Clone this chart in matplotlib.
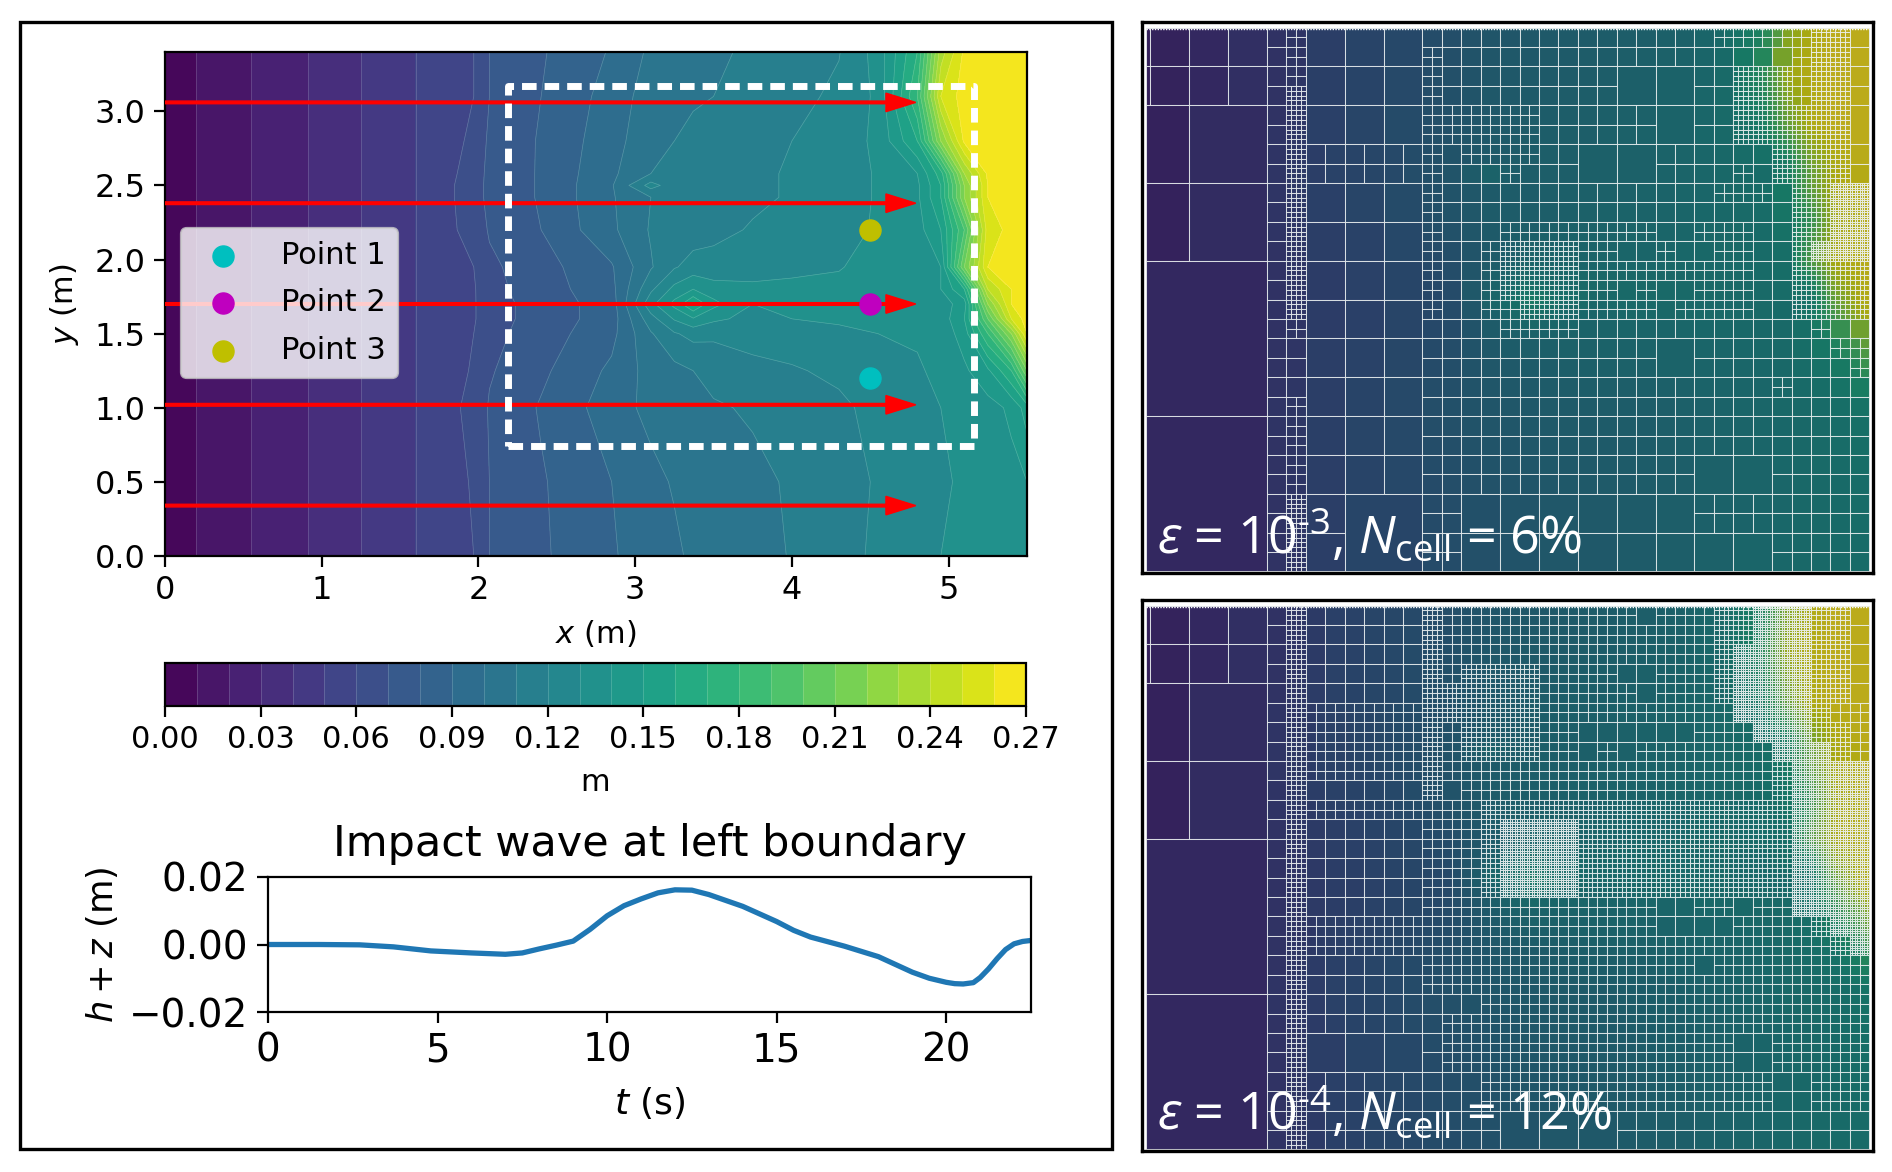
import numpy as np
import matplotlib
matplotlib.use('Agg')
import matplotlib.pyplot as plt
from matplotlib.collections import PolyCollection
from matplotlib.patches import Rectangle

W, H = 1892, 1172

plt.rcParams['font.family'] = 'DejaVu Sans'
plt.rcParams['mathtext.fontset'] = 'dejavusans'

# surface height, in cm (0.01 m)
grid_x = [0, .2, .55, .91, 1.25, 1.6, 1.97, 2.07, 2.4, 2.85, 3.1, 3.25, 3.37, 3.5, 3.75, 4.0, 4.3, 4.55, 4.8, 4.95, 5.1, 5.25, 5.4, 5.5]
grid_y = [0, .5, 1.0, 1.25, 1.5, 1.6, 1.7, 1.8, 1.95, 2.2, 2.42, 2.5, 2.58, 2.8, 3.1, 3.4]
grid_h = [
    [0, 1, 2, 3, 4, 5, 6.0, 7.0, 7.85, 8.9, 9.5, 9.8, 10.2, 10.4, 10.7, 11.05, 11.6, 12.2, 12.7, 13.0, 13.2, 13.4, 13.5, 13.6],
    [0, 1, 2, 3, 4, 5, 6.1, 7.0, 7.9, 9.0, 9.7, 10.1, 10.3, 10.5, 10.8, 11.1, 11.6, 12.1, 12.6, 12.9, 13.1, 13.4, 13.7, 14.0],
    [0, 1, 2, 3, 4, 5, 6.3, 7.1, 8.1, 9.5, 10.3, 10.5, 10.7, 10.9, 11.1, 11.3, 11.8, 12.3, 12.8, 13.0, 13.3, 13.6, 14.2, 15.5],
    [0, 1, 2, 3, 4, 5, 6.1, 6.9, 7.8, 9.2, 10.4, 10.7, 11.0, 11.3, 11.7, 11.9, 12.2, 12.6, 12.9, 13.2, 13.8, 14.8, 17.0, 21.0],
    [0, 1, 2, 3, 4, 5, 6.0, 6.7, 7.5, 8.7, 10.9, 11.9, 12.3, 12.2, 12.4, 12.5, 12.7, 13.0, 13.1, 13.3, 14.5, 18.0, 22.0, 26.0],
    [0, 1, 2, 3, 4, 5, 5.9, 6.6, 7.4, 8.5, 11.6, 13.1, 13.9, 13.2, 12.7, 13.0, 13.2, 13.2, 13.3, 13.4, 15.0, 20.0, 25.0, 26.5],
    [0, 1, 2, 3, 4, 5, 5.9, 6.6, 7.4, 8.5, 12.7, 14.3, 16.0, 14.3, 13.0, 13.2, 13.3, 13.3, 13.3, 13.5, 14.5, 22.0, 26.0, 26.5],
    [0, 1, 2, 3, 4, 5, 5.9, 6.7, 7.5, 8.7, 11.8, 13.3, 14.0, 13.4, 13.2, 13.2, 13.2, 13.3, 13.4, 14.0, 16.0, 24.0, 26.0, 26.8],
    [0, 1, 2, 3, 4, 5, 6.0, 6.8, 7.6, 8.9, 10.9, 11.9, 12.4, 12.4, 12.6, 12.8, 12.95, 13.3, 13.6, 14.0, 21.0, 26.0, 26.5, 27.0],
    [0, 1, 2, 3, 4, 5, 6.4, 7.1, 8.0, 9.8, 11.1, 11.3, 11.5, 11.7, 12.1, 12.4, 12.7, 13.1, 13.6, 15.0, 19.0, 25.5, 26.3, 27.0],
    [0, 1, 2, 3, 4, 5, 6.5, 7.3, 8.1, 9.9, 11.0, 11.2, 11.4, 11.6, 11.8, 12.1, 12.5, 13.1, 13.8, 16.0, 22.0, 26.0, 26.5, 27.0],
    [0, 1, 2, 3, 4, 5, 6.5, 7.3, 8.1, 9.9, 12.4, 11.4, 11.5, 11.6, 11.8, 12.1, 12.5, 13.1, 13.8, 16.0, 22.0, 26.0, 26.5, 27.0],
    [0, 1, 2, 3, 4, 5, 6.4, 7.3, 8.1, 9.8, 11.0, 11.2, 11.4, 11.6, 11.8, 12.1, 12.5, 13.1, 14.0, 16.5, 23.0, 26.2, 26.7, 27.0],
    [0, 1, 2, 3, 4, 5, 6.2, 7.2, 8.1, 9.6, 10.7, 11.0, 11.2, 11.4, 11.7, 12.0, 12.5, 13.2, 16.0, 22.0, 26.2, 27.0, 27.0, 27.0],
    [0, 1, 2, 3, 4, 5, 6.0, 7.0, 8.0, 9.4, 10.5, 10.7, 10.9, 11.0, 11.3, 11.7, 12.2, 13.2, 18.0, 25.0, 26.5, 27.0, 27.0, 27.0],
    [0, 1, 2, 3, 4, 5, 6.0, 7.0, 7.9, 9.1, 10.2, 10.4, 10.6, 10.8, 11.2, 11.5, 11.95, 13.4, 17.0, 23.5, 26.2, 27.0, 27.0, 27.0],
]

arrow_y = [0.34, 1.02, 1.70, 2.38, 3.06]
box_x = [2.19, 5.165]
box_y = [0.74, 3.17]

point_labels = ['Point 1', 'Point 2', 'Point 3']
point_x = [4.5, 4.5, 4.5]
point_y = [1.2, 1.7, 2.2]
point_colors = ['c', 'm', 'y']

# impact wave
wave_t = [0, 1.5, 2.7, 3.7, 4.8, 6, 7, 7.5, 8, 8.5, 9, 9.5, 10, 10.5, 11, 11.5, 12, 12.5, 13, 14, 15, 15.5, 16, 17, 18, 19, 19.5, 20, 20.25, 20.5, 20.8, 21, 21.25, 21.5, 21.75, 22, 22.25, 22.5]
wave_h = [0, 0, -.0001, -.0007, -.0019, -.0025, -.0029, -.0025, -.0013, -.0002, .001, .0045, .0085, .0115, .0135, .0153, .0162, .0161, .0148, .0113, .0068, .0042, .0022, -.0005, -.0036, -.0082, -.0100, -.0112, -.0116, -.0117, -.0113, -.0098, -.0072, -.0042, -.0015, .0002, .0009, .0012]

# refinement depth of each mesh square, one string per row (0 = largest cells)
mesh_levels_a = [
    '2222222 3 4 222222 3 33333333333333 4444 4 55 33',
    '2222222 3 4 222222 4 33333333333333 3333 4 55 33',
    '2222222 3 4 222222 4 333333333 2222 3 3 555 4 55 33',
    '2222222 3 5 222222 4 333333333 2222 3 3 555 4 55 33',
    '1111111 3 5 222222 4 44444 333333 22 3 3 555 5 55 22',
    '1111111 3 5 222222 4 44444 333333 22 3 3 555 5 55 22',
    '1111111 3 5 333333 4 3 4444 33 2222 333333 555 5 22',
    '1111111 3 5 333333 4 33343 33 2222 333343 555 5 33',
    '1111111 3 5 222222 4 33333333333333 444 3 55665',
    '1111111 3 5 222222 4 33333333333333 3333 55665',
    '1111111 3 5 222222 4 333 44444444 33 444 33 55665',
    '1111111 3 5 222222 4 33 4 5555 44 33 43 344 33 56665',
    '0000000 3 5 222222 4 33 4 5555 44 44 44 444 33 5 555 5',
    '0000000 3 5 222222 4 33 4 5555 44 34 33 444 33 5 555 5',
    '0000000 3 5 222222 4 33 4 4555 44 44 34 444 33 5 555 5',
    '0000000 3 4 222222 3 333 4444 333333333333 4 333',
    '0000000 3 3 222222 3 33333333333 22 33333 33444',
    '0000000 3 3 222222 3 33333333333 22 33333 33344',
    '0000000 3 3 222222 3 33333333333333333 4 33333',
    '0000000 3 4 222222 3 33333333333333333 3 33333',
    '0000000 3 4 222222 3 33333333333333333333333',
    '0000000 3 4 222222 3 33333333333333333333333',
    '0000000 3 4 222222 3 3333333333333 2222 333333',
    '0000000 3 4 222222 3 3333333333333 2222 333333',
    '0000000 3 5 221111 3 3 222222222222 33333 33333',
    '0000000 3 5 221111 3 3 222222222222 33333 33333',
    '0000000 3 5 221111 3 3 222222222222 22222 33333',
    '0000000 3 5 221111 3 3 222222222222 22222 33333',
]
mesh_levels_b = [
    '2222222 3 5 333333 5 4444444444 3 444 55 666 55 33',
    '2222222 3 5 333333 5 4444444444 4 444 55 666 55 33',
    '2222222 3 5 333333 5 44444444444444 5 6666 55 33',
    '2222222 3 5 333333 5 4 5555 4444 33 4445 6666 55 33',
    '1111111 3 5 222222 5 5 5555 4444 43 4445 6666 55 33',
    '1111111 3 5 444444 5 5 5555 4444 44 4444 6666 54 44',
    '1111111 3 5 444444 5 4 5555 44 33 33 3344 4 666 55 44',
    '1111111 3 5 444444 5 4 5555 44 34 34 4444 44 666 544',
    '1111111 3 5 444444 5 444444444444444 44 566666',
    '1111111 3 5 222222 5 3 44444444444444 44 566666',
    '1111111 3 5 444444 4 44 5555555555555555 66666',
    '1111111 3 5 333333 4 44 5 6666 55555555555 66666',
    '0000000 3 5 333333 4 44 5 6666 55555555555 66666',
    '0000000 3 5 333333 4 44 5 6666 55555555555 66666',
    '0000000 3 5 333333 4 44 5 6666 55555555555 66666',
    '0000000 3 5 333333 4 44 4 4444 4444 33 44 3 44 66666',
    '0000000 3 5 444444 4 44 4 4444 4444 33 33 4 44 45666',
    '0000000 3 5 444444 4 444444444444444444 44566',
    '0000000 3 5 333333 4 4444444444444 3 4444 44444',
    '0000000 3 5 333333 4 44444444444444444444444',
    '0000000 3 5 333333 3 33 444444444444444444444',
    '0000000 3 5 333333 3 44444444444444444444444',
    '0000000 3 5 222222 3 444444444444444 33 444444',
    '0000000 3 5 222222 3 444444444444444 33 444444',
    '0000000 3 5 333333 3 33 444444444444444 33 4444',
    '0000000 3 5 333333 3 33 444444444444444 33 4444',
    '0000000 3 5 333333 3 33 22222222 3333333 333333',
    '0000000 3 5 333333 3 33 22222222 3333333 333333',
]
label_a = '$ε$ = 10$^{\\text{-}3}$, $N_{\\mathrm{cell}}$ = 6%'
label_b = '$ε$ = 10$^{\\text{-}4}$, $N_{\\mathrm{cell}}$ = 12%'


def px_axes(left, top, right, bottom):
    return fig.add_axes([left / W, 1 - bottom / H, (right - left) / W, (bottom - top) / H])


def style_axis(ax, size=23):
    for s in ax.spines.values():
        s.set_linewidth(1.6)
    ax.tick_params(labelsize=size, width=1.6, length=8, pad=6)


def sample_height(x, y):
    # bilinear lookup in the table above
    by_row = [np.interp(x, grid_x, row) for row in grid_h]
    return np.interp(y, grid_y, by_row)


def build_cells(level_text):
    rows = [r.replace(' ', '') for r in level_text]
    levels = np.array([[int(c) for c in r] for r in rows])
    cells = []

    def split(c0, r0, size, depth):
        c1, r1 = int(np.floor(c0)), int(np.floor(r0))
        c2, r2 = int(np.ceil(c0 + size)), int(np.ceil(r0 + size))
        part = levels[max(r1, 0):max(r2, 0), max(c1, 0):max(c2, 0)]
        if part.size == 0:
            return
        if part.max() > depth:
            half = size / 2
            for dc in (0, half):
                for dr in (0, half):
                    split(c0 + dc, r0 + dr, half, depth + 1)
        else:
            cells.append((c0, r0, size))

    for c0 in (-1, 7, 15, 23, 31):
        for r0 in (-4, 4, 12, 20):
            split(c0, r0, 8, 0)
    return cells


def draw_mesh(ax, level_text, label, baseline):
    col_lo, col_hi = 0.77, 38.0
    row_lo, row_hi = 0.0, 27.95
    polys, colors = [], []
    for c0, r0, size in build_cells(level_text):
        x0, x1 = np.clip([c0, c0 + size], col_lo, col_hi)
        y0, y1 = np.clip([r0, r0 + size], row_lo, row_hi)
        if x1 <= x0 or y1 <= y0:
            continue
        polys.append([(x0, y0), (x1, y0), (x1, y1), (x0, y1)])
        # mesh panels show the whole basin, slightly darkened
        xm = 0.965 + 4.5 * ((x0 + x1) / 2 - col_lo) / (col_hi - col_lo)
        ym = 3.4 * (1 - (y0 + y1) / 2 / 28)
        rgb = np.array(plt.cm.viridis(sample_height(xm, ym) / 27))[:3] * 0.74
        colors.append(rgb)
    mesh = PolyCollection(polys, facecolors=colors, edgecolors=(0.93, 0.95, 0.95, 0.8), linewidths=0.75)
    ax.add_collection(mesh)
    ax.plot([col_lo, col_hi], [0.05, 0.05], color='white', lw=1.0, ls=(0, (1, 1)))
    ax.set_xlim(0.566, 38.19)
    ax.set_ylim(28.07, -0.29)
    ax.set_xticks([])
    ax.set_yticks([])
    for s in ax.spines.values():
        s.set_linewidth(2.4)
    fig.text(1157 / W, 1 - baseline / H, label, color='white', fontsize=37.5, family='Open Sans',
             math_fontfamily='custom', va='baseline', ha='left')


plt.rcParams['mathtext.rm'] = 'Open Sans'
plt.rcParams['mathtext.it'] = 'Open Sans:italic'
plt.rcParams['mathtext.bf'] = 'Open Sans:bold'

fig = plt.figure(figsize=(W / 100, H / 100), dpi=100)

# frame around the left half
fig.add_artist(Rectangle((20 / W, 1 - 1149 / H), 1092 / W, 1127 / H, transform=fig.transFigure,
                         fill=False, edgecolor='black', linewidth=2.4))

# main map
ax = px_axes(165, 52, 1027, 556)
levels = np.arange(0, 0.2701, 0.01)
grid_z = np.array(grid_h) / 100
cf = ax.contourf(grid_x, grid_y, grid_z, levels=levels, cmap='viridis')
ax.contour(grid_x, grid_y, grid_z, levels=levels, colors='white', linewidths=0.5, alpha=0.22)
ax.set_xlim(0, 5.5)
ax.set_ylim(0, 3.4)
ax.set_xticks([0, 1, 2, 3, 4, 5])
ax.set_yticks([0, 0.5, 1.0, 1.5, 2.0, 2.5, 3.0])
style_axis(ax)
ax.set_xlabel('$x$ (m)', fontsize=22, labelpad=8)
ax.set_ylabel('$y$ (m)', fontsize=22, labelpad=10)

for y in arrow_y:
    ax.arrow(0, y, 4.79, 0, width=0.018, head_width=0.125, head_length=0.19,
             length_includes_head=True, color='red', zorder=3)
ax.plot([box_x[0], box_x[1], box_x[1], box_x[0], box_x[0]], [box_y[0], box_y[0], box_y[1], box_y[1], box_y[0]],
        color='white', lw=5, ls=(0, (2.1, 1.15)), zorder=4)
for px, py, lab, col in zip(point_x, point_y, point_labels, point_colors):
    ax.scatter(px, py, s=230, color=col, label=lab, zorder=5)
leg = ax.legend(loc='center left', bbox_to_anchor=(0.018, 0.502), fontsize=22, labelspacing=0.62,
                handletextpad=0.9, framealpha=0.8, borderaxespad=0)
leg.get_frame().set_linewidth(1.6)

# colour bar
cax = px_axes(165, 663, 1026, 706)
cb = fig.colorbar(cf, cax=cax, orientation='horizontal', ticks=np.arange(0, 0.271, 0.03), drawedges=True)
cb.dividers.set_color((1, 1, 1, 0.2))
cb.dividers.set_linewidth(0.6)
cb.ax.set_xticklabels(['%.2f' % v for v in np.arange(0, 0.271, 0.03)])
cb.set_label('m', fontsize=22, labelpad=10)
cb.outline.set_linewidth(1.6)
style_axis(cb.ax, 22)

# impact wave
ax2 = px_axes(268, 877, 1031, 1012)
ax2.plot(wave_t, wave_h, color='#1f77b4', lw=3.8)
ax2.set_xlim(0, 22.5)
ax2.set_ylim(-0.02, 0.02)
ax2.set_xticks([0, 5, 10, 15, 20])
ax2.set_yticks([-0.02, 0, 0.02])
ax2.set_yticklabels(['\u22120.02', '0.00', '0.02'])
style_axis(ax2, 28)
ax2.set_title('Impact wave at left boundary', fontsize=31, pad=15)
ax2.set_xlabel('$t$ (s)', fontsize=26, labelpad=11)
ax2.set_ylabel('$h + z$ (m)', fontsize=25.5, labelpad=7)

# adaptive meshes
ax_a = px_axes(1142, 22, 1873, 573)
draw_mesh(ax_a, mesh_levels_a, label_a, 553)
ax_b = px_axes(1142, 600, 1873, 1151)
draw_mesh(ax_b, mesh_levels_b, label_b, 1130)

fig.savefig('out.png', dpi=100)
